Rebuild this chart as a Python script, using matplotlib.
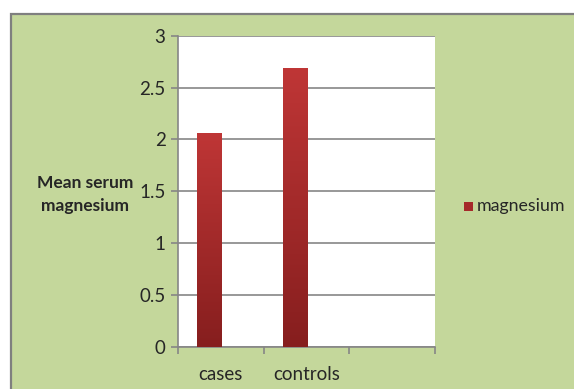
import numpy as np
import matplotlib
matplotlib.use("Agg")
import matplotlib.pyplot as plt
from matplotlib.colors import LinearSegmentedColormap
from matplotlib.patches import Rectangle

plt.rcParams['font.family'] = ['Lato', 'DejaVu Sans']

categories = ["cases", "controls", ""]
series_name = "magnesium"
values = [2.065, 2.685]
y_ticks = [0, 0.5, 1, 1.5, 2, 2.5, 3]
y_tick_labels = ["0", "0.5", "1", "1.5", "2", "2.5", "3"]

bg_green = "#c4d79b"
grid_gray = "#868686"
text_color = "#262626"
bar_top = "#bf3636"
bar_bottom = "#861e1e"

fig = plt.figure(figsize=(5.74, 3.89), dpi=100)
fig.patch.set_facecolor("white")

# Chart area panel with grey frame
frame = Rectangle((10.5 / 574, -0.01), 1.02, 1 - 14 / 389 + 0.01,
                  transform=fig.transFigure, facecolor=bg_green,
                  edgecolor="#7f7f7f", linewidth=1.6, zorder=-10)
fig.patches.append(frame)

ax = fig.add_axes([178 / 574, 1 - 347 / 389, (435 - 178) / 574, (347 - 35.7) / 389])
ax.set_zorder(1)
ax.set_facecolor("white")
ax.set_xlim(-0.5, len(categories) - 0.5)
ax.set_ylim(0, 3)

ax.set_yticks(y_ticks)
ax.set_yticklabels(y_tick_labels)
ax.yaxis.grid(True, color=grid_gray, linewidth=1.2)
ax.set_axisbelow(True)

# Category boundaries carry the tick marks; labels sit at slot centers
ax.set_xticks(np.arange(len(categories) + 1) - 0.5)
ax.set_xticklabels([])
ax.set_xticks(np.arange(len(categories)), minor=True)
ax.set_xticklabels(categories, minor=True)
ax.tick_params(axis="x", which="major", direction="out", length=5, width=1.2, color=grid_gray)
ax.tick_params(axis="x", which="minor", length=0, pad=14, labelsize=13.5, labelcolor=text_color)
ax.tick_params(axis="y", direction="out", length=5, width=1.2, color=grid_gray,
               labelsize=13.5, labelcolor=text_color, pad=4)

for side in ["top", "right"]:
    ax.spines[side].set_visible(False)
for side in ["left", "bottom"]:
    ax.spines[side].set_color(grid_gray)
    ax.spines[side].set_linewidth(1.2)

# Vertical gradient fill for the bars
cmap = LinearSegmentedColormap.from_list("bar_grad", [bar_bottom, bar_top])
grad = np.linspace(0, 1, 256).reshape(-1, 1)

bar_width = 0.29
offset = -0.134
xpos = np.arange(len(values)) + offset
bars = ax.bar(xpos, values, width=bar_width, color=bar_top, zorder=2, label=series_name)
for b in bars:
    x0, y0 = b.get_x(), b.get_y()
    w, h = b.get_width(), b.get_height()
    im = ax.imshow(grad, extent=(x0, x0 + w, 0, h), origin="lower", cmap=cmap,
                   aspect="auto", zorder=3, interpolation="bilinear")
    im.set_clip_path(b)
ax.set_xlim(-0.5, len(categories) - 0.5)
ax.set_ylim(0, 3)

ax.set_ylabel("Mean serum\nmagnesium", rotation=0, fontsize=12.5, fontweight="bold",
              color=text_color, ha="center", va="center", linespacing=1.5)
ax.yaxis.set_label_coords(-0.36, 0.49)

# Legend entry
fig.patches.append(Rectangle((464 / 574, 1 - 211 / 389), 8.5 / 574, 9.5 / 389,
                             transform=fig.transFigure, facecolor="#a52a2a",
                             edgecolor="none", zorder=3))
fig.text(477 / 574, 1 - 206 / 389, series_name, fontsize=12.8, color=text_color,
         ha="left", va="center")

fig.savefig("out.png", dpi=100, facecolor=fig.get_facecolor())
